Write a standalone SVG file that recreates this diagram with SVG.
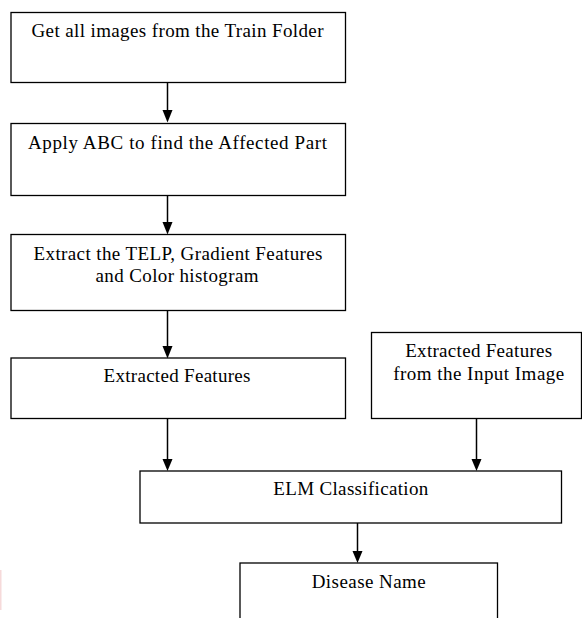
<svg xmlns="http://www.w3.org/2000/svg" width="582" height="618" viewBox="0 0 582 618">
<defs>
<style>
.box{fill:#fff;stroke:#000;stroke-width:1.3}
.t{font-family:"Liberation Serif","Times New Roman",serif;font-size:19px;fill:#000;text-anchor:middle}
.c{stroke:#000;stroke-width:1.5;fill:none}
.h{fill:#000}
</style>
</defs>
<rect width="582" height="618" fill="#fff"/>
<rect x="0" y="570" width="1.5" height="40" fill="#f6dada"/>
<g id="connectors">
<path class="c" d="M167.5,83 V112"/>
<path class="c" d="M167.5,196 V224"/>
<path class="c" d="M167.5,311 V348"/>
<path class="c" d="M167.5,419 V461"/>
<path class="c" d="M476.5,419 V461"/>
<path class="c" d="M357.5,523 V553"/>
<path class="h" d="M162.5,110 L172.5,110 L167.5,122.5 Z"/>
<path class="h" d="M162.5,222 L172.5,222 L167.5,234.5 Z"/>
<path class="h" d="M162.5,346 L172.5,346 L167.5,358.5 Z"/>
<path class="h" d="M162.5,459 L172.5,459 L167.5,471 Z"/>
<path class="h" d="M471.5,459 L481.5,459 L476.5,471 Z"/>
<path class="h" d="M352.5,551 L362.5,551 L357.5,563 Z"/>
</g>
<g id="n1"><rect class="box" x="11" y="12.5" width="334.5" height="70"/><text class="t" x="177.5" y="37" textLength="292" lengthAdjust="spacing">Get all images from the Train Folder</text></g>
<g id="n2"><rect class="box" x="11" y="123.5" width="334.5" height="72"/><text class="t" x="177.5" y="148.5" textLength="299" lengthAdjust="spacing">Apply ABC to find the Affected Part</text></g>
<g id="n3"><rect class="box" x="11" y="234.5" width="334.5" height="76"/><text class="t" x="178" y="260" textLength="289" lengthAdjust="spacing">Extract the TELP, Gradient Features</text><text class="t" x="177" y="282" textLength="163" lengthAdjust="spacing">and Color histogram</text></g>
<g id="n4"><rect class="box" x="11" y="358" width="334.5" height="60.5"/><text class="t" x="177" y="382" textLength="147" lengthAdjust="spacing">Extracted Features</text></g>
<g id="n5"><rect class="box" x="371.5" y="332.5" width="210" height="86"/><text class="t" x="478.7" y="357" textLength="147" lengthAdjust="spacing">Extracted Features</text><text class="t" x="478.7" y="380" textLength="171" lengthAdjust="spacing">from the Input Image</text></g>
<g id="n6"><rect class="box" x="140" y="471" width="421.5" height="52"/><text class="t" x="350.8" y="495" textLength="155" lengthAdjust="spacing">ELM Classification</text></g>
<g id="n7"><rect class="box" x="240" y="563" width="257.5" height="60"/><text class="t" x="368.7" y="588" textLength="114" lengthAdjust="spacing">Disease Name</text></g>
</svg>
